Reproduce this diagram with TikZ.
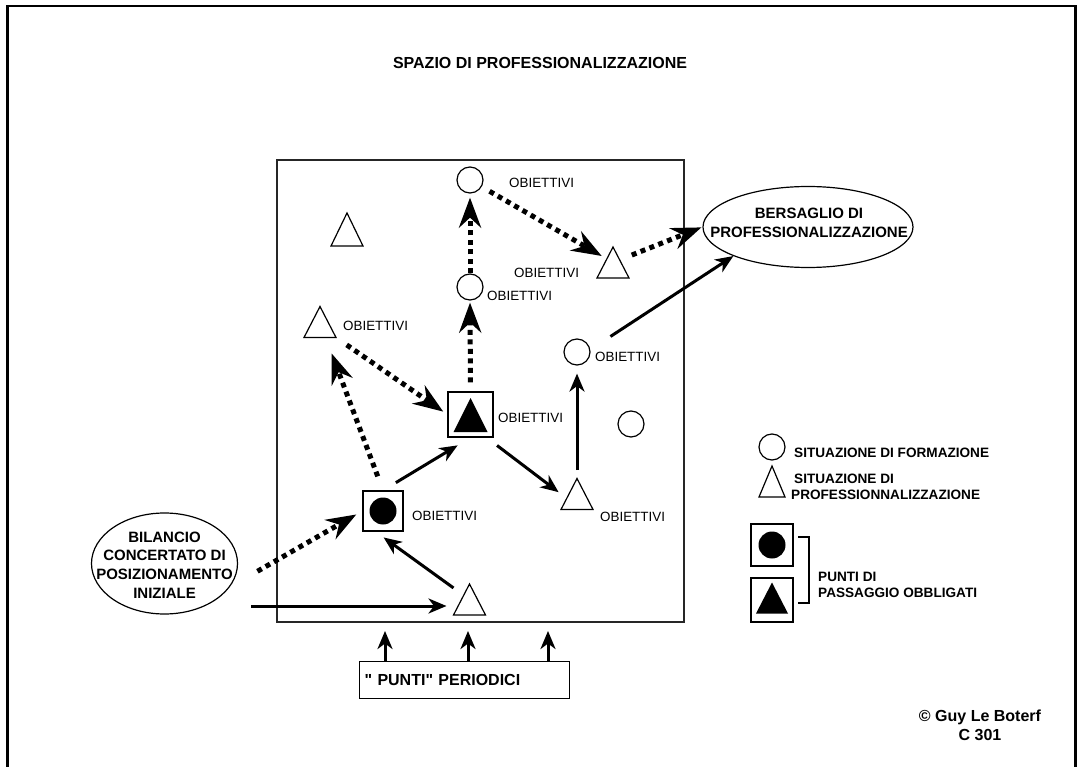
\documentclass[tikz,border=0pt]{standalone}
\usepackage{fontspec}
\setmainfont{Liberation Sans}[Ligatures=TeXOff]
\usetikzlibrary{arrows.meta,shapes.geometric,calc}
\begin{document}
\begin{tikzpicture}[x=1pt,y=-1pt,
  frameline/.style={line width=2.5pt},
  boxline/.style={draw=black!85, line width=1.1pt},
  shapeline/.style={line width=1.2pt, line join=miter},
  circ/.style={circle, draw, line width=1.2pt, minimum size=26pt, inner sep=0pt},
  trislot/.style={minimum width=32pt, minimum height=31pt, inner sep=0pt, outer sep=0pt},
  oval/.style={ellipse, draw, line width=1.2pt, inner sep=0pt},
  ptcircle/.style={draw, line width=1.2pt, minimum size=#1, inner sep=0pt,
    path picture={\fill (path picture bounding box.center) circle[radius=13.5pt];}},
  pttri/.style={draw, line width=1.2pt, minimum size=45pt, inner sep=0pt,
    path picture={\fill ($(path picture bounding box.center)+(0,-16.5)$) -- ++(17,34) -- ++(-34,0) -- cycle;}},
  obj/.style={anchor=west, inner sep=0pt, font=\fontsize{13.4}{16}\selectfont},
  legtext/.style={anchor=west, inner sep=0pt, align=left, font=\fontsize{13.6}{16}\selectfont\bfseries},
  bigtext/.style={inner sep=0pt, align=center, font=\fontsize{15}{19.5}\selectfont\bfseries},
  headtext/.style={inner sep=0pt, align=center, font=\fontsize{16}{19}\selectfont\bfseries},
  solidarrow/.style={line width=3pt, -{Stealth[length=18pt,width=15pt,inset=5.5pt]}},
  dotarrow/.style={line width=5pt, dash pattern=on 5pt off 4.5pt, -{Stealth[length=30pt,width=22pt,inset=10pt]}},
]
\useasboundingbox (0,0) rectangle (1079,767);

% page frame, open at the bottom
\draw[frameline] (7.5,767) -- (7.5,6) -- (1075.5,6) -- (1075.5,767);

\node[headtext] (title) at (540,63) {SPAZIO DI PROFESSIONALIZZAZIONE};

% professionalisation space
\node[boxline, minimum width=407pt, minimum height=462pt, inner sep=0pt] (space) at (480.5,391) {};

% training situations
\node[circ] (c1) at (470,180) {};
\node[circ] (c2) at (470,287) {};
\node[circ] (c3) at (577,352) {};
\node[circ] (c4) at (631,424) {};

% professionalisation situations (triangles drawn below)
\node[trislot, minimum height=33pt] (t0) at (347,229.5) {};
\node[trislot] (t1) at (320,322) {};
\node[trislot] (t2) at (613,262.5) {};
\node[trislot] (t3) at (577,494) {};
\node[trislot] (t4) at (469.5,599.5) {};
\foreach \t in {t0,t1,t2,t3,t4}
  \draw[shapeline] (\t.north) -- (\t.south east) -- (\t.south west) -- cycle;

% compulsory passage points
\node[pttri] (sA) at (470.5,414.5) {};
\node[ptcircle=40pt] (sB) at (383,511) {};

% objectives
\node[obj] (o1) at (509,183) {OBIETTIVI};
\node[obj] (o2) at (514,273) {OBIETTIVI};
\node[obj] (o3) at (487,296) {OBIETTIVI};
\node[obj] (o4) at (343,326) {OBIETTIVI};
\node[obj] (o5) at (595,357) {OBIETTIVI};
\node[obj] (o6) at (498,418) {OBIETTIVI};
\node[obj] (o7) at (412,516) {OBIETTIVI};
\node[obj] (o8) at (600,517) {OBIETTIVI};

% start and target
\node[oval, minimum width=210pt, minimum height=81pt] (eB) at (808,227) {};
\node[bigtext] (eBt) at (809,223) {BERSAGLIO DI\\PROFESSIONALIZZAZIONE};
\node[oval, minimum width=146pt, minimum height=101pt] (eL) at (164.5,563.5) {};
\node[inner sep=0pt, align=center, font=\fontsize{15}{18.7}\selectfont\bfseries]
      (eLt) at (164.5,565) {BILANCIO\\CONCERTATO DI\\POSIZIONAMENTO\\INIZIALE};

% periodic reviews
\node[draw, line width=1.2pt, anchor=north west, text width=200pt, inner xsep=5pt, inner ysep=0pt,
      minimum height=37pt, align=left, font=\fontsize{16}{19}\selectfont\bfseries]
      (pb) at (359,661) {" PUNTI" PERIODICI};
\coordinate (u1) at (385,631);
\coordinate (u2) at (468,631);
\coordinate (u3) at (548,631);
\foreach \u in {u1,u2,u3}
  \draw[solidarrow] (pb.north -| \u) -- (\u);

% solid path
\coordinate (hs) at (251,606);
\draw[solidarrow, shorten >=7pt] (hs) -- (hs -| t4.west);
\draw[solidarrow, shorten >=10pt] (t4) -- (sB.-110);
\draw[solidarrow, shorten <=15pt, shorten >=15pt] (sB.north) -- (sA.south);
\draw[solidarrow, shorten <=13pt, shorten >=3pt] (sA.-55) -- (t3.west);
\draw[solidarrow, shorten <=8.5pt, shorten >=8pt] (t3.north) -- (c3.south);
\draw[solidarrow, shorten <=24pt] (c3.10) -- (eB.south west);

% dotted path
\draw[dotarrow, shorten <=32pt, shorten >=7pt] (eL.-20) -- (sB.west);
\draw[dotarrow, shorten <=15pt, shorten >=17pt] (sB.north) -- (t1.-70);
\draw[dotarrow, shorten <=13pt, shorten >=5pt] (t1.south east) -- (sA.west);
\draw[dotarrow, shorten <=9pt, shorten >=2pt] (sA.north) -- (c2.south);
\draw[dotarrow, shorten >=4pt] (c2.north) -- (c1.south);
\draw[dotarrow, shorten <=9pt, shorten >=13pt] (c1) -- (t2.center);
\draw[dotarrow, shorten <=3pt, shorten >=1pt] (t2) -- (eB.west);

% legend
\node[circ] (cL) at (772,447) {};
\node[legtext] (l1) at (794,453) {SITUAZIONE DI FORMAZIONE};
\node[trislot, minimum width=26pt] (tL) at (772,481.5) {};
\draw[shapeline] (tL.north) -- (tL.south east) -- (tL.south west) -- cycle;
\node[legtext] (l2) at (791,487) {\hspace*{3pt}SITUAZIONE DI\\PROFESSIONNALIZZAZIONE};
\node[ptcircle=42pt] (sL1) at (772,545) {};
\node[draw, line width=1.2pt, minimum width=42pt, minimum height=44pt, inner sep=0pt,
      path picture={\fill ($(path picture bounding box.center)+(0,-17.5)$) -- ++(16,31) -- ++(-32,0) -- cycle;}]
      (sL2) at (772,600) {};
\coordinate (bk1) at (798,537);
\coordinate (bk2) at (798,603);
\draw[line width=1.5pt] (bk1) -- ++(11,0) |- (bk2);
\node[legtext] (l3) at (818,585) {PUNTI DI\\PASSAGGIO OBBLIGATI};

% credits
\node[headtext] (cr) at (980,725.5) {© Guy Le Boterf\\C 301};
\end{tikzpicture}
\end{document}
